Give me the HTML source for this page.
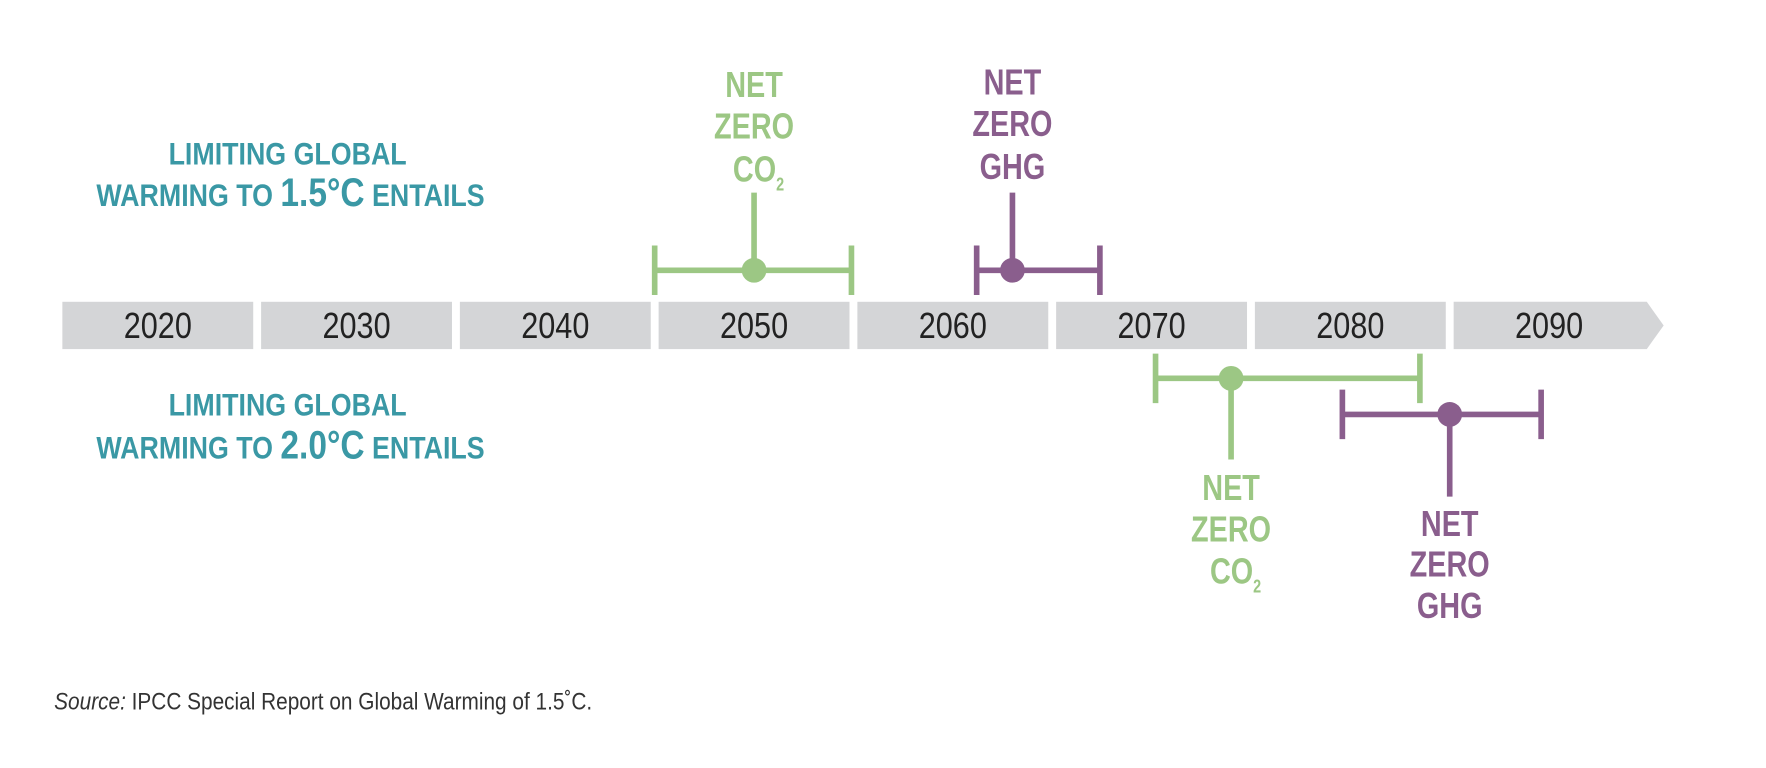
<!DOCTYPE html>
<html><head><meta charset="utf-8"><style>
html,body{margin:0;padding:0;background:#fff;}
svg{display:block;}
text{font-family:"Liberation Sans Narrow","Liberation Sans",sans-serif;}
</style></head><body>
<svg id="chart" width="1766" height="768" viewBox="0 0 1568 682" xmlns="http://www.w3.org/2000/svg">
<g fill="#3a98a5" font-weight="bold" text-anchor="middle" transform="translate(257,0) scale(0.85,1) translate(-257,0)">
<text x="255" y="146" font-size="28">LIMITING GLOBAL</text>
<text x="258" y="183" font-size="28">WARMING TO <tspan font-size="35">1.5°C</tspan> ENTAILS</text>
</g>
<g fill="#3a98a5" font-weight="bold" text-anchor="middle" transform="translate(257,0) scale(0.85,1) translate(-257,0)">
<text x="255" y="369" font-size="28">LIMITING GLOBAL</text>
<text x="258" y="407" font-size="28">WARMING TO <tspan font-size="35">2.0°C</tspan> ENTAILS</text>
</g>
<g id="axis"></g>
<g id="marks"></g>
<g transform="translate(48,0) scale(0.88,1) translate(-48,0)">
<text x="48" y="630" font-size="21" fill="#333"><tspan font-style="italic">Source:</tspan> IPCC Special Report on Global Warming of 1.5˚C.</text>
</g>
</svg>
<script>
const years = [2020, 2030, 2040, 2050, 2060, 2070, 2080, 2090];
const milestoneNames = ["net-zero-co2-1-5c", "net-zero-ghg-1-5c", "net-zero-co2-2-0c", "net-zero-ghg-2-0c"];
const milestoneYear = [2050, 2063, 2074, 2085];
const rangeLow = [2045, 2061.2, 2070.2, 2079.6];
const rangeHigh = [2054.9, 2067.4, 2083.5, 2089.6];
const milestoneGas = ["CO2", "GHG", "CO2", "GHG"];
const milestoneScenario = ["1.5", "1.5", "2.0", "2.0"];

const NS = "http://www.w3.org/2000/svg";
const x0 = 140, perYear = 17.65;
function xScale(y){ return x0 + (y - 2020) * perYear; }
function mk(tag, attrs, parent){
  const e = document.createElementNS(NS, tag);
  for (const k in attrs) e.setAttribute(k, attrs[k]);
  parent.appendChild(e);
  return e;
}
function condense(el, cx, f){
  el.setAttribute('transform', `translate(${cx},0) scale(${f},1) translate(${-cx},0)`);
}
const axis = document.getElementById('axis');
const barTop = 268, barBot = 310;
years.forEach((yr, i) => {
  const cx = xScale(yr);
  const half = 10 * perYear / 2;
  const l = cx - half + 3.5, r = cx + half - 3.5;
  let shape;
  if (i === years.length - 1) {
    shape = mk('polygon', {points: `${l},${barTop} ${r+2},${barTop} ${r+17},${(barTop+barBot)/2} ${r+2},${barBot} ${l},${barBot}`, fill: '#d4d5d7'}, axis);
  } else {
    shape = mk('rect', {x: l, y: barTop, width: r - l, height: barBot - barTop, fill: '#d4d5d7'}, axis);
  }
  
  
  const t = mk('text', {x: cx, y: 300, 'text-anchor': 'middle', 'font-size': '32', fill: '#222'}, axis);
  t.textContent = yr;
  condense(t, cx, 0.85);
  
  
});

const marks = document.getElementById('marks');
milestoneYear.forEach((yr, i) => {
  const gas = milestoneGas[i];
  const top = milestoneScenario[i] === "1.5";
  const color = gas === "CO2" ? '#9cc784' : '#8a5e8d';
  let cy, stemEnd, labelYs;
  if (top) {
    cy = 240;
    stemEnd = 171;
    labelYs = gas === "CO2" ? [86, 123, 161] : [84, 121, 159];
  } else {
    cy = gas === "CO2" ? 336 : 368;
    stemEnd = gas === "CO2" ? 408 : 441;
    labelYs = gas === "CO2" ? [444, 481, 518] : [476, 512, 549];
  }
  const g = mk('g', {}, marks);
  
  
  const xl = xScale(rangeLow[i]), xh = xScale(rangeHigh[i]), xc = xScale(yr);
  const line = mk('line', {x1: xl, x2: xh, y1: cy, y2: cy, stroke: color, 'stroke-width': 5}, g);
  
  
  [xl, xh].forEach(xx => {
    const w = mk('line', {x1: xx, x2: xx, y1: cy - 22, y2: cy + 22, stroke: color, 'stroke-width': 5}, g);
    
    
  });
  const stem = mk('line', {x1: xc, x2: xc, y1: cy, y2: stemEnd, stroke: color, 'stroke-width': 5}, g);
  
  
  const dot = mk('circle', {cx: xc, cy: cy, r: 11, fill: color}, g);
  
  
  const lines = ["NET", "ZERO", gas === "CO2" ? "CO" : "GHG"];
  lines.forEach((s, j) => {
    const t = mk('text', {x: xc, y: labelYs[j], 'text-anchor': 'middle', 'font-size': '32', 'font-weight': 'bold', fill: color}, g);
    t.textContent = s;
    let ax = xc;
    if (j === 2 && gas === "CO2") {
      const sub = mk('tspan', {'font-size': '16', dy: '8'}, t);
      sub.textContent = '2';
      ax = xc + 4;
      t.setAttribute('x', ax);
    }
    condense(t, ax, 0.8);
    
    
  });
});
</script>
</body></html>
